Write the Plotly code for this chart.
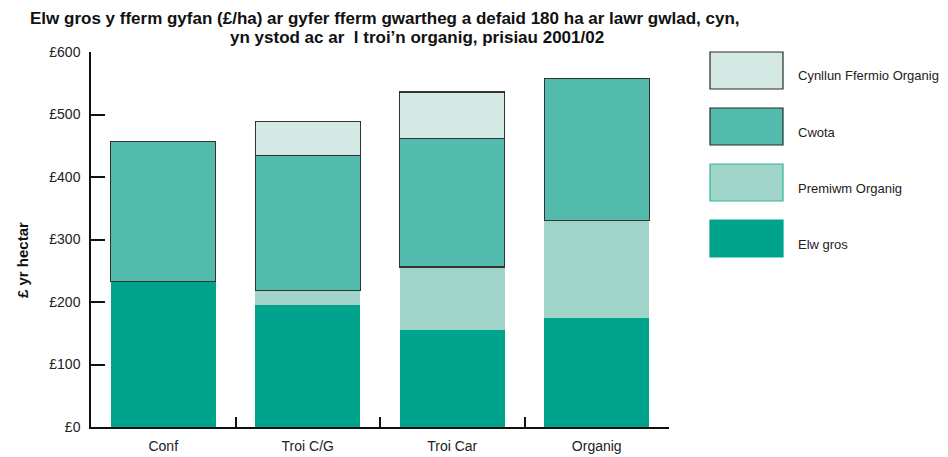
import plotly.graph_objects as go

categories = ["Conf", "Troi C/G", "Troi Car", "Organig"]
elw_gros = [233, 196, 155, 174]
premiwm_organig = [None, 23, 101, 156]
cwota = [224, 216, 205, 227]
cynllun = [None, 54, 75, None]

y_tickvals = [0, 100, 200, 300, 400, 500, 600]
y_ticktext = ["£0", "£100", "£200", "£300", "£400", "£500", "£600"]

series = [
    ("Elw gros", elw_gros, "#00A38B", None),
    ("Premiwm Organig", premiwm_organig, "#A0D4C8", None),
    ("Cwota", cwota, "#52BBAB", "#333333"),
    ("Cynllun Ffermio Organig", cynllun, "#D4E9E4", "#333333"),
]
legend_lines = {"Elw gros": "#00A38B", "Premiwm Organig": "#2DB5A0",
                "Cwota": "#2a2a2a", "Cynllun Ffermio Organig": "#2a2a2a"}

FONT = "Liberation Sans"
# page body has an 8px margin; compensate so the plot area sits at x 91..669, y 52..427
OFF = 8
L, T, PW, PH = 91, 52, 578, 375

fig = go.Figure()
for name, vals, col, line in series:
    fig.add_trace(go.Bar(
        x=categories, y=vals, name=name, width=0.727,
        marker=dict(color=col, line=dict(color=line if line else col, width=1.2 if line else 0)),
        showlegend=False,
    ))

fig.update_layout(
    barmode="stack",
    width=948 - OFF, height=457 - OFF,
    margin=dict(l=L - OFF, r=948 - OFF - (L - OFF) - PW, t=T - OFF,
                b=457 - OFF - (T - OFF) - PH, autoexpand=False),
    paper_bgcolor="white", plot_bgcolor="white",
    font=dict(family=FONT, size=14, color="#222"),
    xaxis=dict(range=[-0.5, 3.5], showline=True, linecolor="#111", linewidth=1.5,
               ticks="inside", tickson="boundaries", ticklen=10, tickcolor="#111",
               tickwidth=1.5, ticklabelstandoff=5, tickfont=dict(size=14), showgrid=False),
    yaxis=dict(range=[0, 600], tickvals=y_tickvals, ticktext=y_ticktext,
               showline=True, linecolor="#111", linewidth=1.5,
               ticks="inside", ticklen=14, tickcolor="#111", tickwidth=1.5,
               ticklabelstandoff=6, tickfont=dict(size=14), showgrid=False, zeroline=False),
)

def px_x(x):
    return (x - L) / PW

def px_y(y):
    return (T + PH - y) / PH

# Title (two lines)
fig.add_annotation(text="<b>Elw gros y fferm gyfan (£/ha) ar gyfer fferm gwartheg a defaid 180 ha ar lawr gwlad, cyn,</b>",
                   xref="paper", yref="paper", x=px_x(28), y=px_y(18),
                   xanchor="left", yanchor="middle", showarrow=False,
                   font=dict(family=FONT, size=17, color="#111"))
fig.add_annotation(text="<b>yn ystod ac ar  l troi’n organig, prisiau 2001/02</b>",
                   xref="paper", yref="paper", x=px_x(228), y=px_y(38),
                   xanchor="left", yanchor="middle", showarrow=False,
                   font=dict(family=FONT, size=17, color="#111"))

# Y axis title
fig.add_annotation(text="<b>£ yr hectar</b>", textangle=-90,
                   xref="paper", yref="paper", x=px_x(22), y=px_y(260),
                   xanchor="center", yanchor="middle", showarrow=False,
                   font=dict(family=FONT, size=15, color="#111"))

# Custom legend
legend_order = ["Cynllun Ffermio Organig", "Cwota", "Premiwm Organig", "Elw gros"]
colors = {s[0]: s[2] for s in series}
box_tops = [52, 108, 164, 220]
for name, top in zip(legend_order, box_tops):
    fig.add_shape(type="rect", xref="paper", yref="paper",
                  x0=px_x(710), x1=px_x(783), y0=px_y(top + 37), y1=px_y(top),
                  fillcolor=colors[name], line=dict(color=legend_lines[name], width=1.2))
    fig.add_annotation(text=name, xref="paper", yref="paper",
                       x=px_x(796), y=px_y(top + 24),
                       xanchor="left", yanchor="middle", showarrow=False,
                       font=dict(family=FONT, size=13, color="#222"))

fig.write_html("out.html")
